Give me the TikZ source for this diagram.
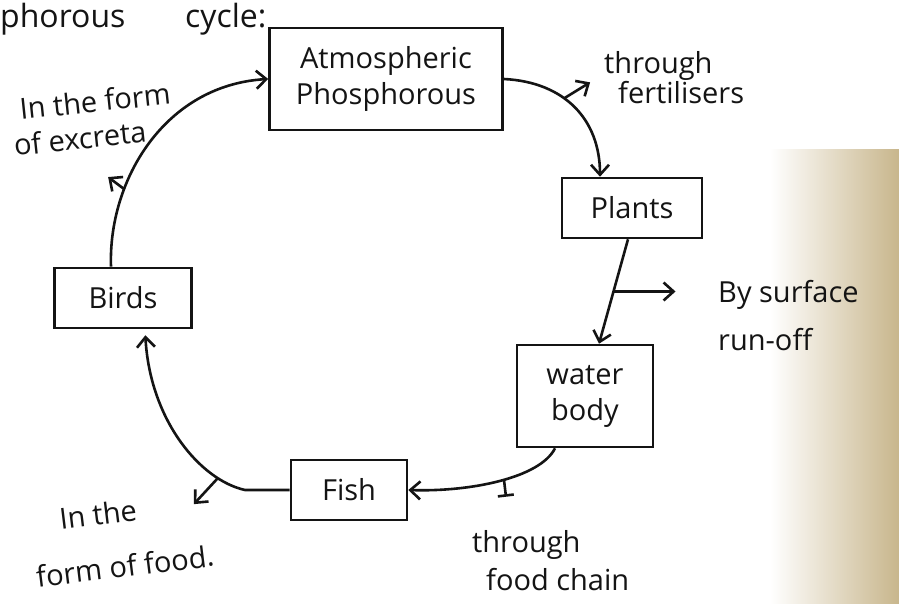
\documentclass[tikz,border=0pt]{standalone}
\usepackage{fontspec}
\setmainfont{Open Sans}
\usetikzlibrary{arrows.meta}
\definecolor{ink}{RGB}{20,20,20}
\definecolor{paper}{RGB}{200,182,140}
\tikzset{
  box/.style={draw=ink, line width=2.6pt, inner sep=4pt, align=center,
    font=\fontsize{29}{36}\selectfont, text=ink},
  conn/.style={draw=ink, line width=2.6pt, -{Straight Barb[length=10pt,width=18pt,line width=2.6pt]}},
  tick/.style={draw=ink, line width=2.6pt, -{Bar[width=16pt,line width=2.6pt]}},
  lbl/.style={text=ink, font=\fontsize{29}{34}\selectfont, inner sep=0pt},
}
\begin{document}
\begin{tikzpicture}[x=1pt,y=-1pt]
\useasboundingbox (0,0) rectangle (899,604);
\fill[white] (0,0) rectangle (899,604);
\shade[left color=white, right color=paper] (770,150) rectangle (899,604);

% title fragment
\node[lbl, anchor=base west, font=\fontsize{32}{36}\selectfont] (title1) at (0,28) {phorous};
\node[lbl, anchor=base west, font=\fontsize{32}{36}\selectfont] (title2) at (185,28) {cycle:};

% boxes
\node[box, minimum width=233pt, minimum height=102pt] (atm) at (386,79) {Atmospheric\\Phosphorous};
\node[box, minimum width=140pt, minimum height=60pt] (plants) at (632,208) {Plants};
\node[box, minimum width=136pt, minimum height=102pt] (water) at (585,396) {water\\body};
\node[box, minimum width=116pt, minimum height=60pt] (fish) at (349,490) {Fish};
\node[box, minimum width=137pt, minimum height=60pt] (birds) at (123,298) {Birds};

% connectors
\draw[conn] (atm.east) .. controls (565,82) and (600,120) .. ([xshift=-32pt]plants.north) coordinate[pos=0.4] (b1);
\draw[conn] (b1) -- ++(26,-16);

\draw[conn] ([xshift=-4pt]plants.south) -- ([xshift=14pt]water.north) coordinate[pos=0.5] (b2);
\draw[conn] (b2) -- ++(62,0);

\draw[conn] ([xshift=-30pt]water.south) .. controls (540,478) and (470,492) .. (fish.east) coordinate[pos=0.47] (b3);
\draw[tick] (b3) -- ++(2,17);

\draw[conn, shorten >=6pt] (fish.west) -- (245,490) .. controls (200,480) and (150,420) .. ([xshift=22pt]birds.south) coordinate[pos=0.2] (b4);
\draw[conn] (b4) -- ++(-24,26);

\draw[conn] ([xshift=-12pt]birds.north) .. controls (108,180) and (165,85) .. (atm.west) coordinate[pos=0.3] (b5);
\draw[conn] (b5) -- ++(-16,-12);

% labels
\node[lbl, anchor=base west] (lfert1) at (604,74) {through};
\node[lbl, anchor=base west] (lfert2) at (618,104) {fertilisers};
\node[lbl, anchor=base west] (lrun1) at (718,302) {By surface};
\node[lbl, anchor=base west] (lrun2) at (718,350) {run-off};
\node[lbl, anchor=base west] (lchain1) at (472,552) {through};
\node[lbl, anchor=base west] (lchain2) at (486,590) {food chain};
\node[lbl, rotate=7] (lfood1) at (98,514) {In the};
\node[lbl, rotate=7] (lfood2) at (125,566) {form of food.};
\node[lbl, rotate=6] (lexc1) at (95,101) {In the form};
\node[lbl, rotate=6] (lexc2) at (80,138) {of excreta};
\end{tikzpicture}
\end{document}
